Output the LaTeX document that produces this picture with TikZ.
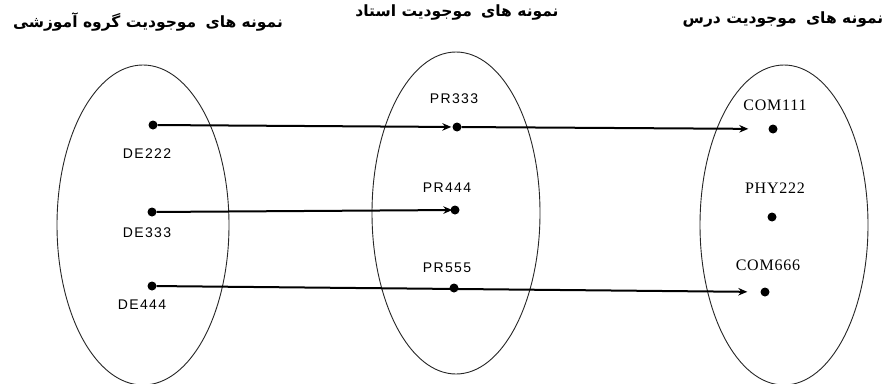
\documentclass[tikz,border=0pt]{standalone}
\usepackage{fontspec}
\setmainfont{Liberation Serif}
\setsansfont{Liberation Sans}
\newfontfamily\arabicfont[Script=Arabic]{DejaVu Sans}
\newfontfamily\labsansfont[LetterSpace=10]{Liberation Sans}
\newfontfamily\labseriffont[LetterSpace=5]{Liberation Serif}
\TeXXeTstate=1
\usetikzlibrary{arrows.meta}
\begin{document}
\begin{tikzpicture}[x=1pt,y=-1pt,
  setshape/.style={draw=black!85,line width=0.9pt},
  dotnode/.style={circle,fill=black,inner sep=0pt,minimum size=9pt},
  labsans/.style={font=\labsansfont\fontsize{14}{14}\selectfont,inner sep=0pt},
  labserif/.style={font=\labseriffont\fontsize{16}{16}\selectfont,inner sep=0pt},
  titlestyle/.style={font=\arabicfont\bfseries\fontsize{15.5}{15.5}\selectfont,inner sep=0pt},
  link/.style={line width=2pt,-{Stealth[length=9pt,width=7.5pt]}}]
\useasboundingbox (0,0) rectangle (890,383);
\clip (0,0) rectangle (890,383);
\fill[white] (0,0) rectangle (890,383);
% sets
\draw[setshape] (143,225) ellipse [x radius=86,y radius=160];
\draw[setshape] (456,213) ellipse [x radius=84,y radius=161];
\draw[setshape] (784,225) ellipse [x radius=84,y radius=160];
% titles
\node[titlestyle] (t1) at (148,22) {\beginR نمونه های\hspace{0.6em}موجودیت گروه آموزشی\endR};
\node[titlestyle] (t2) at (457,13) {\beginR نمونه های\hspace{0.6em}موجودیت استاد\endR};
\node[titlestyle] (t3) at (783,20) {\beginR نمونه های\hspace{0.6em}موجودیت درس\endR};
% dots
\node[dotnode] (de222) at (153,125) {};
\node[dotnode] (de333) at (152,212) {};
\node[dotnode] (de444) at (152,286) {};
\node[dotnode] (pr333) at (457,127) {};
\node[dotnode] (pr444) at (455,210) {};
\node[dotnode] (pr555) at (454,288) {};
\node[dotnode] (com111) at (773,129) {};
\node[dotnode] (phy222) at (772,217) {};
\node[dotnode] (com666) at (765,292) {};
% labels
\node[labsans] (lde222) at (147,154) {DE222};
\node[labsans] (lde333) at (147,233) {DE333};
\node[labsans] (lde444) at (142,305) {DE444};
\node[labsans] (lpr333) at (454,99) {PR333};
\node[labsans] (lpr444) at (447,188) {PR444};
\node[labsans] (lpr555) at (447,268) {PR555};
\node[labserif] (lcom111) at (775,105) {COM111};
\node[labserif] (lphy222) at (775,188) {PHY222};
\node[labserif] (lcom666) at (768,265) {COM666};
% links
\draw[link,shorten >=1pt] (de222) -- (pr333);
\draw[link,shorten >=20pt] (pr333) -- (com111);
\draw[link,shorten >=-2pt] (de333) -- (pr444);
\draw[link,shorten >=13pt] (de444) -- (com666);
\end{tikzpicture}
\end{document}
